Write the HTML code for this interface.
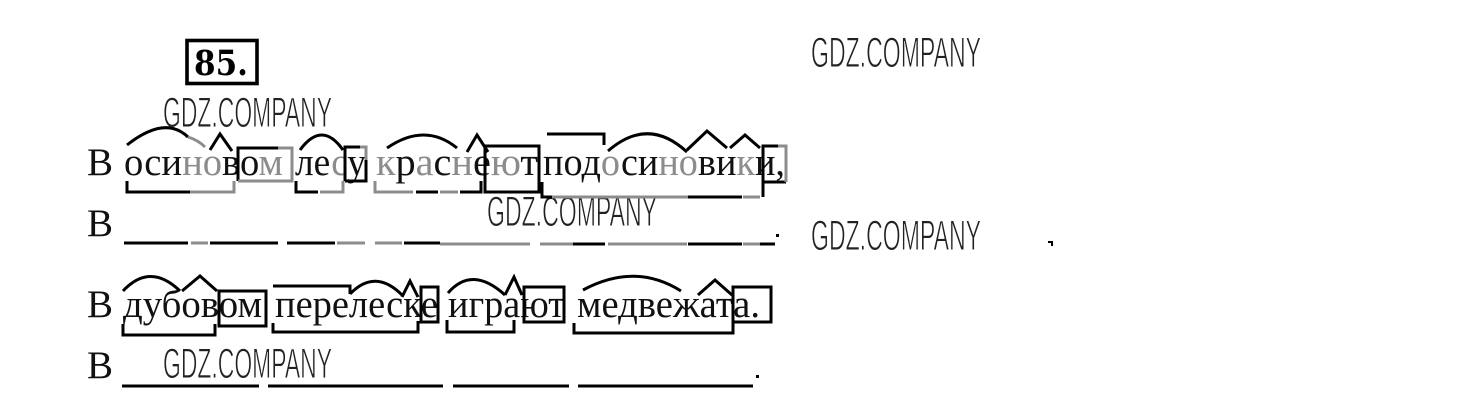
<!DOCTYPE html>
<html lang="ru"><head><meta charset="utf-8"><title>85</title>
<style>
html,body{margin:0;padding:0;background:#fff}
svg{display:block}
.t{font-family:"Liberation Serif",serif;font-size:39px;fill:#111}
.g{fill:#8c8c8c}
.w{font-family:"Liberation Sans",sans-serif;font-size:43px;fill:#222;stroke:#fff;stroke-width:.9}
.k{fill:none;stroke:#000;stroke-width:3}
.a{fill:none;stroke:#8c8c8c;stroke-width:3}
</style></head><body>
<svg width="1460" height="401" viewBox="0 0 1460 401" xmlns="http://www.w3.org/2000/svg">
<rect width="1460" height="401" fill="#fff"/>

<rect x="187" y="40.5" width="70" height="43" fill="none" stroke="#000" stroke-width="3.6"/>
<text x="194" y="75" textLength="54" lengthAdjust="spacingAndGlyphs" style="font-family:'DejaVu Serif',serif;font-weight:bold;font-size:35px;fill:#000">85.</text>

<!-- Watermarks -->
<text class="w" x="163" y="127" textLength="169" lengthAdjust="spacingAndGlyphs">GDZ.COMPANY</text>
<text class="w" x="811" y="67" textLength="170" lengthAdjust="spacingAndGlyphs">GDZ.COMPANY</text>
<text class="w" x="811" y="250" textLength="170" lengthAdjust="spacingAndGlyphs">GDZ.COMPANY</text>
<text class="w" x="487" y="226" textLength="170" lengthAdjust="spacingAndGlyphs">GDZ.COMPANY</text>
<text class="w" x="163" y="378" textLength="169" lengthAdjust="spacingAndGlyphs">GDZ.COMPANY</text>

<!-- Row 1 text -->
<text class="t" x="87" y="175">В</text>
<text class="t" x="124" y="175" textLength="159" lengthAdjust="spacingAndGlyphs">оси<tspan class="g">но</tspan>во<tspan class="g">м</tspan></text>
<text class="t" x="295" y="175" textLength="71" lengthAdjust="spacingAndGlyphs">ле<tspan class="g">с</tspan>у</text>
<text class="t" x="376" y="175" textLength="162" lengthAdjust="spacingAndGlyphs"><tspan class="g">к</tspan>р<tspan class="g">а</tspan>с<tspan class="g">н</tspan>е<tspan class="g">ю</tspan>т</text>
<text class="t" x="543" y="175" textLength="242" lengthAdjust="spacingAndGlyphs">под<tspan class="g">о</tspan>си<tspan class="g">но</tspan>ви<tspan class="g">к</tspan>и,</text>

<!-- Row 1 marks -->
<path class="k" d="M127 145Q165 115 188 137"/><path class="a" d="M188 137Q198 140 205 147"/>
<path class="k" d="M210 150L220 134L232 151"/>
<path class="k" d="M278 148H238V181"/><path class="a" d="M278 148H292V181H238"/>
<path class="k" d="M127 181V192H190"/><path class="a" d="M190 192H234V181"/>
<path class="k" d="M300 150Q322 120 343 150"/>
<path class="k" d="M296 181V192H318"/><path class="a" d="M320 192H343V181"/>
<path class="k" d="M345 181V147H360M345 181H366V160"/><path class="a" d="M360 147H366V160"/>
<path class="k" d="M387 148Q425 122 457 148"/>
<path class="k" d="M467 152L477 135L488 152"/>
<path class="a" d="M375 181V192H413"/><path class="k" d="M416 192H438"/><path class="a" d="M440 192H458"/><path class="k" d="M460 192H481V181"/>
<path class="k" d="M485 146H539V192H485Z"/>
<path class="k" d="M547 134H604V145"/>
<path class="k" d="M542 182V197H552"/><path class="a" d="M552 197H688"/><path class="k" d="M688 197H742"/><path class="a" d="M743 197H760"/><path class="k" d="M763 197V182"/>
<path class="k" d="M608 151Q648 116 687 152"/>
<path class="k" d="M687 150L707 131L727 148M730 148L745 135L760 148"/>
<path class="k" d="M778 146H763V182H786"/><path class="a" d="M778 146H786V182"/>

<!-- Row 2 -->
<text class="t" x="87" y="236">В</text>
<path class="k" d="M124 243H188M210 243H278M287 243H335M404 243H440"/>
<path class="a" d="M191 243H208M337 243H365M375 243H402M440 244H530M540 244H573M608 244H687M743 244H760"/>
<path class="k" d="M573 244H605M688 244H742M760 244H775"/>
<rect x="776" y="234" width="3" height="3" fill="#000"/>

<!-- Row 3 text -->
<text class="t" x="87" y="317">В</text>
<text class="t" x="123" y="317" textLength="139" lengthAdjust="spacingAndGlyphs">дубовом</text>
<text class="t" x="275" y="317" textLength="163" lengthAdjust="spacingAndGlyphs">перелеске</text>
<text class="t" x="448" y="317" textLength="117" lengthAdjust="spacingAndGlyphs">играют</text>
<text class="t" x="577" y="317" textLength="183" lengthAdjust="spacingAndGlyphs">медвежата.</text>

<!-- Row 3 marks -->
<path class="k" d="M123 291Q150 262 180 291"/>
<path class="k" d="M182 291L200 276L217 291"/>
<rect class="k" x="219" y="291" width="47" height="35"/>
<path class="k" d="M123 324V335H215V324"/>
<path class="k" d="M273 286H350V294"/>
<path class="k" d="M350 294Q375 268 402 295"/>
<path class="k" d="M402 297L410 281L418 297"/>
<rect class="k" x="421" y="287" width="17" height="35"/>
<path class="k" d="M273 323V332H418V321"/>
<path class="k" d="M448 293Q472 265 505 295"/>
<path class="k" d="M505 295L514 277L522 295"/>
<rect class="k" x="524" y="287" width="40" height="35"/>
<path class="k" d="M447 320V332H514V320"/>
<path class="k" d="M583 290Q635 262 681 291"/>
<path class="k" d="M698 295L715 280L732 295"/>
<rect class="k" x="733" y="287" width="38" height="35"/>
<path class="k" d="M574 323V333H733V322"/>

<!-- Row 4 -->
<text class="t" x="87" y="378">В</text>
<path class="k" d="M122 386H259M268 386H443M453 386H569M578 386H753"/>
<rect x="756" y="375" width="3" height="3" fill="#000"/>

<path d="M1048 241H1053V246H1051V243H1048Z" fill="#000"/>
</svg>
</body></html>
